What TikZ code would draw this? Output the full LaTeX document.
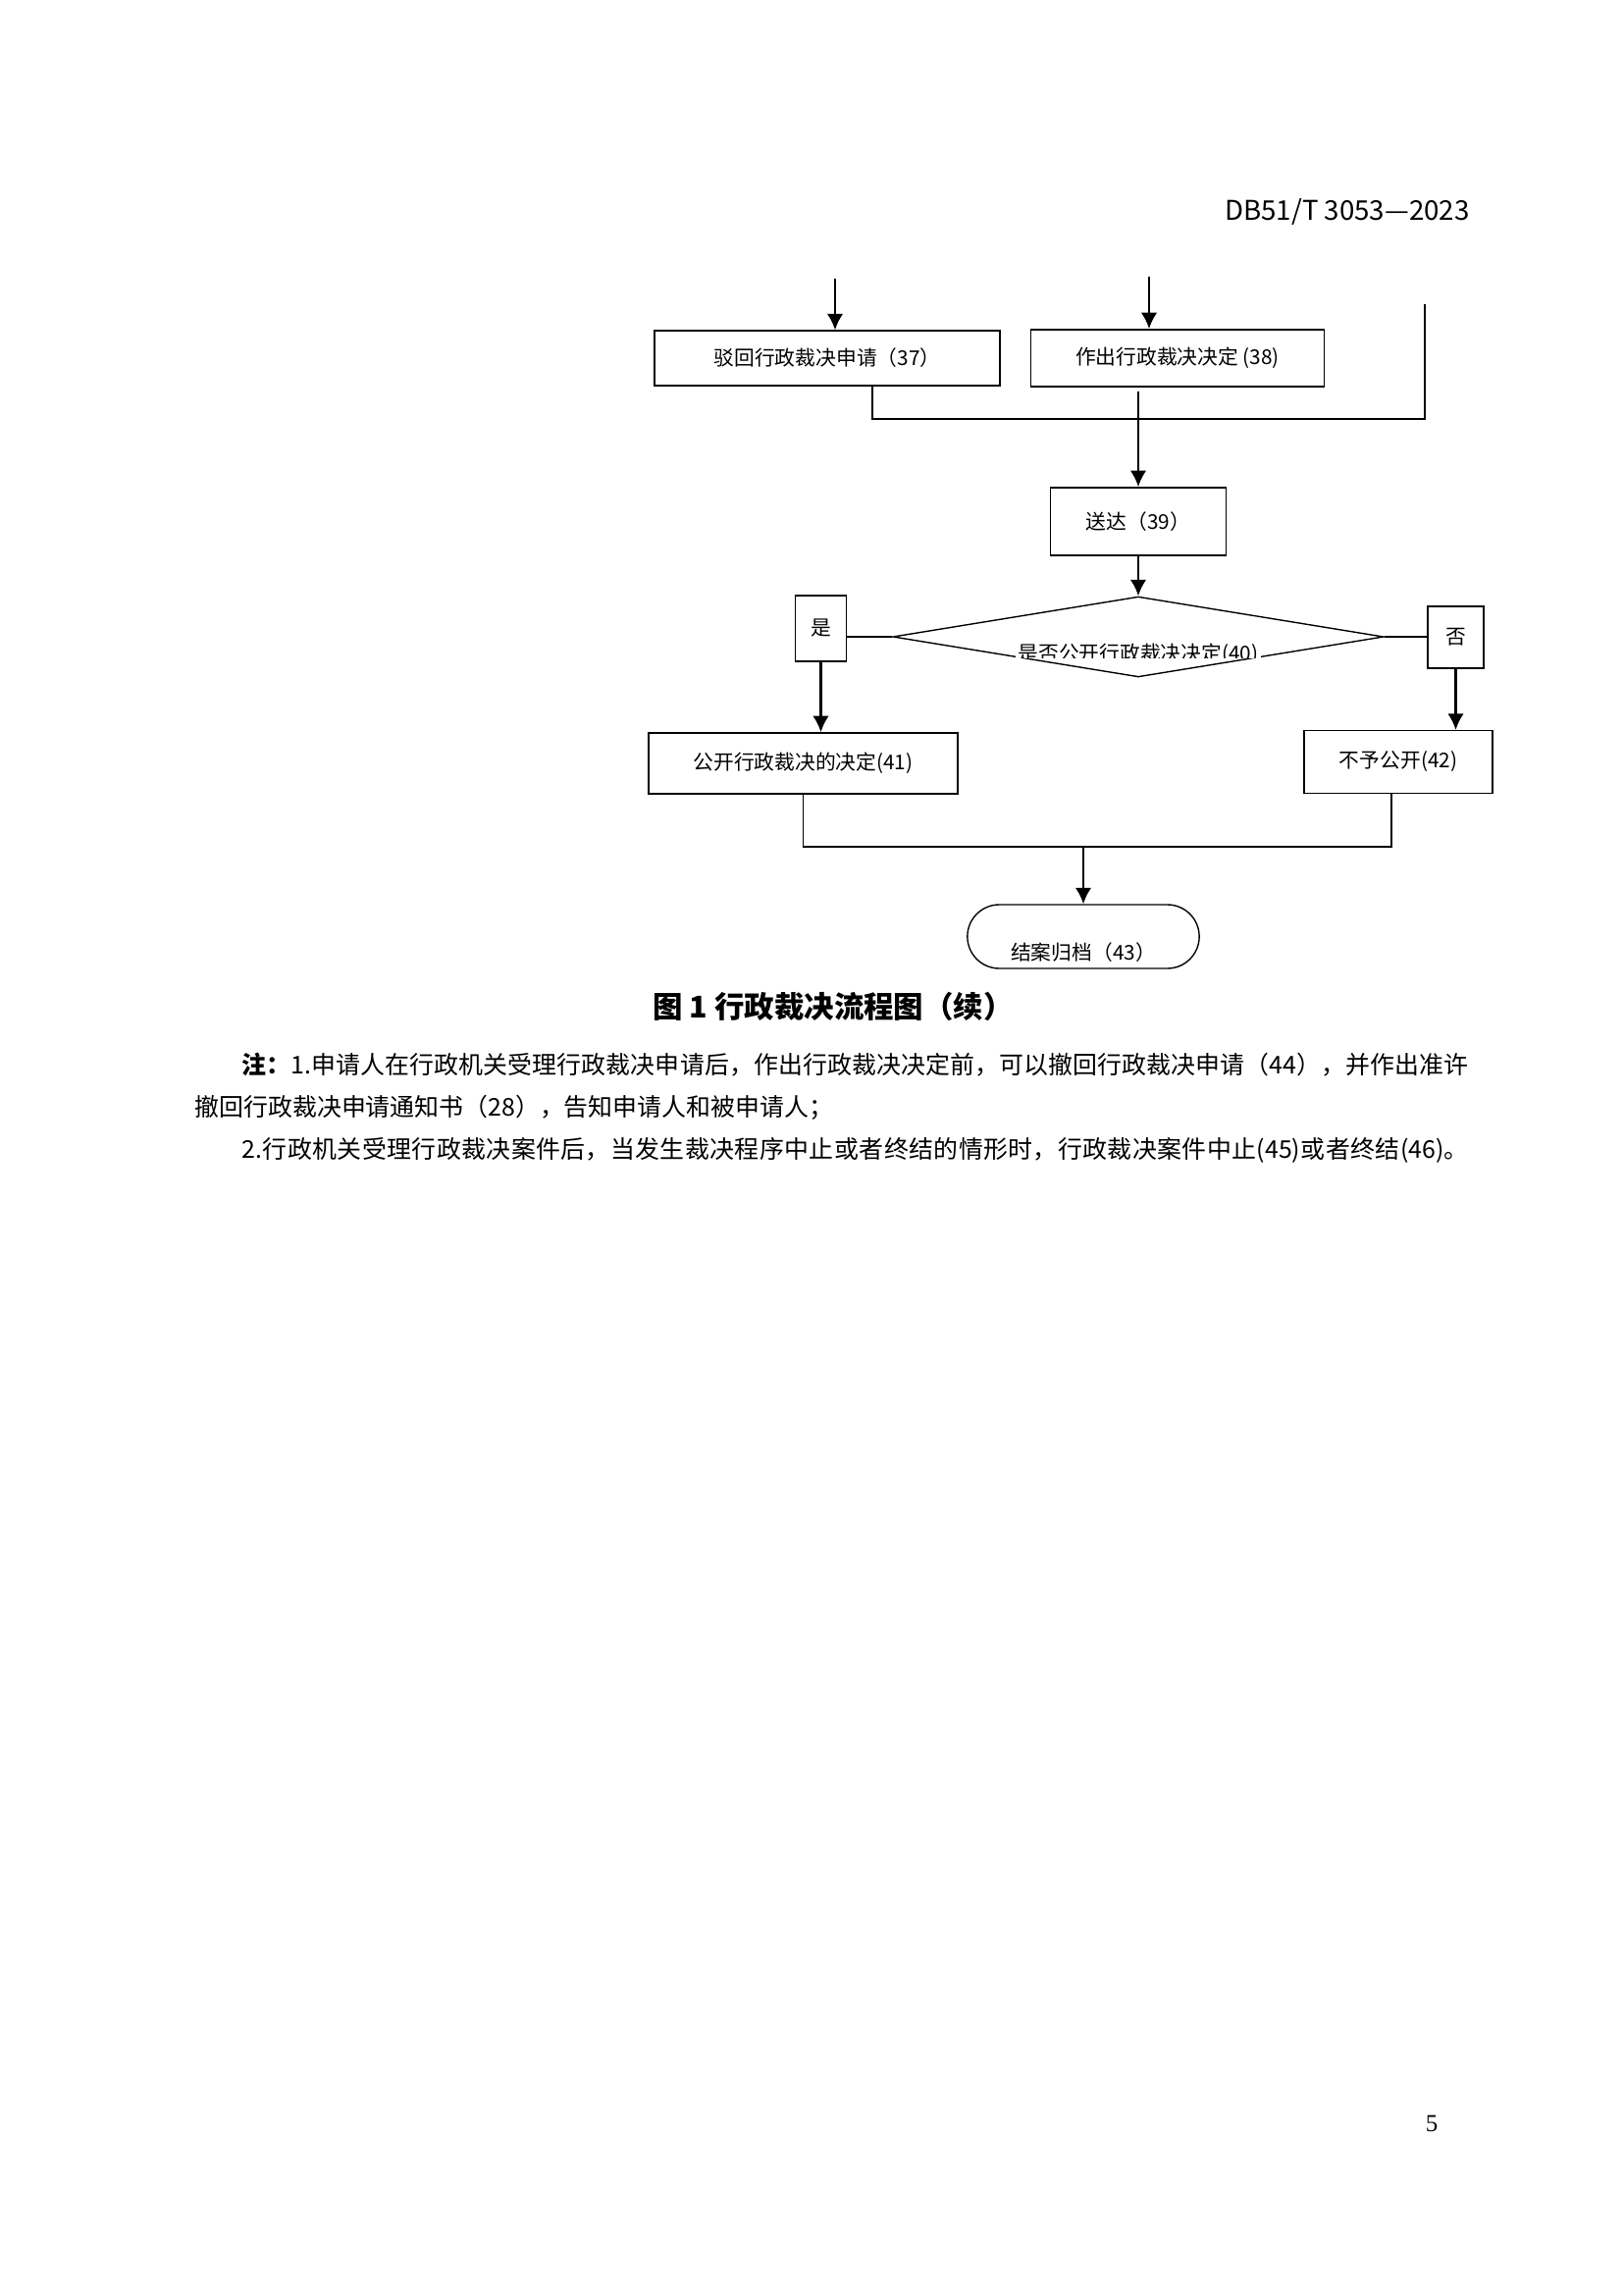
\documentclass[tikz,border=0pt]{standalone}
\usepackage{fontspec}
\setmainfont{Liberation Serif}
\newfontfamily\cjk{Noto Sans CJK SC}
\usetikzlibrary{arrows.meta,positioning,shapes.geometric,shapes.misc}
\XeTeXlinebreaklocale "zh"
\XeTeXlinebreakskip=0pt plus 1pt

\begin{document}
\begin{tikzpicture}[x=0.12697mm, y=-0.12697mm, auto]
  % definicion de estilos
  %Define style for boxes
  \tikzset{
   cuadro/.style={
           rectangle,
           draw=black,
           line width=0.5pt,
           inner sep=0pt,
           font=\cjk\fontsize{7.5pt}{9pt}\selectfont,
           text centered},
   rombo/.style={
           diamond,
           draw=black,
           line width=0.5pt,
           inner sep=0pt,
           minimum width=63.5mm,
           minimum height=10.4mm},
   terminal/.style={
           rounded rectangle,
           draw=black,
           line width=0.5pt,
           inner sep=0pt,
           minimum width=30mm,
           minimum height=8.25mm},
   % Define arrow style
   arrow/.style={
           -{Latex[length=2.1mm,width=2.1mm]},
           line width=0.9pt},
   linea/.style={line width=0.6pt}
  }
  \useasboundingbox (0,0) rectangle (1654,2339);

  % cabecera
  \node[font=\cjk\fontsize{10pt}{12pt}\selectfont, anchor=east, inner sep=0pt] (norma) at (1498,216) {DB51/T 3053—2023};

  % Gráfico
  \node[cuadro, minimum width=44.7mm, minimum height=7.1mm] (rechazo) at (843,365) {驳回行政裁决申请（37）};
  \node[cuadro, minimum width=38mm, minimum height=7.4mm, right=3.8mm of rechazo] (decision) {作出行政裁决决定 (38)};
  \node[cuadro, minimum width=22.7mm, minimum height=8.8mm] (entrega) at (1160,531.5) {送达（39）};
  \node[rombo] (pregunta) at (1160,649) {};
  \node[cuadro, minimum width=6.6mm, minimum height=8.5mm] (si) at (836.5,640.5) {是};
  \node[cuadro, minimum width=7.2mm, minimum height=8mm] (no) at (1483.5,649.5) {否};
  \node[cuadro, minimum width=40mm, minimum height=7.9mm] (publica) at (818.5,778) {公开行政裁决的决定(41)};
  \node[cuadro, minimum width=24.4mm, minimum height=8.1mm] (nopublica) at (1425,776.5) {不予公开(42)};
  \node[terminal, label={[cuadro, draw=none, yshift=-2mm]center:结案归档（43）}] (archivo) at (1104,954.5) {};

  % texto del rombo, cortado abajo
  \begin{scope}
    \clip (1030,630) rectangle (1290,670);
    \node[fill=white, inner xsep=1pt, font=\cjk\fontsize{7.5pt}{9pt}\selectfont, anchor=base] (texto40) at (1160,673) {是否公开行政裁决决定(40)};
  \end{scope}

  % puntos sueltos
  \coordinate (entra1) at (851,284);
  \coordinate (entra2) at (1171,282);
  \coordinate (entra3) at (1452,310);
  \coordinate (codo1) at (889,427);
  \coordinate (codo2) at (1104,863);
  \coordinate (codo3) at (1418,863);
  \coordinate (sale38) at ([yshift=-0.5mm]decision.south);

  \draw[arrow] (entra1) -- (entra1 |- rechazo.north);
  \draw[arrow] (entra2) -- (entra2 |- decision.north);
  \draw[linea] (rechazo.south -| codo1) -- (codo1) -| (entra3);
  \draw[arrow] (sale38 -| entrega.north) -- (entrega.north);
  \draw[arrow] (entrega) -- (pregunta);
  \draw[linea] (si.east |- pregunta) -- (pregunta.west);
  \draw[linea] (pregunta.east) -- (no.west |- pregunta);
  \draw[arrow] (si.south) -- (si.south |- publica.north);
  \draw[arrow] (no.south) -- (no.south |- nopublica.north);
  \draw[linea] (publica.south) |- (codo2) -- (codo3) -- (codo3 |- nopublica.south);
  \draw[arrow] (codo2) -- (archivo.north);

  % titulo y notas
  \node[font=\cjk\bfseries\fontsize{11pt}{13pt}\selectfont] (titulo) at (849,1026) {图 1 行政裁决流程图（续）};
  \node[anchor=north west, text width=164.8mm, align=justify, inner sep=0pt, font=\cjk\fontsize{9pt}{15.5pt}\selectfont] (nota) at (198,1073)
    {\hspace*{6.1mm}{\bfseries 注：}1.申请人在行政机关受理行政裁决申请后，作出行政裁决决定前，可以撤回行政裁决申请（44），并作出准许\linebreak 撤回行政裁决申请通知书（28），告知申请人和被申请人；\par
     {\parfillskip=0pt\hspace*{6.1mm}2.行政机关受理行政裁决案件后，当发生裁决程序中止或者终结的情形时，行政裁决案件中止(45)或者终结(46)。\par}};

  \node[font=\fontsize{9pt}{11pt}\selectfont] (pagina) at (1459,2164) {5};
\end{tikzpicture}
\end{document}
